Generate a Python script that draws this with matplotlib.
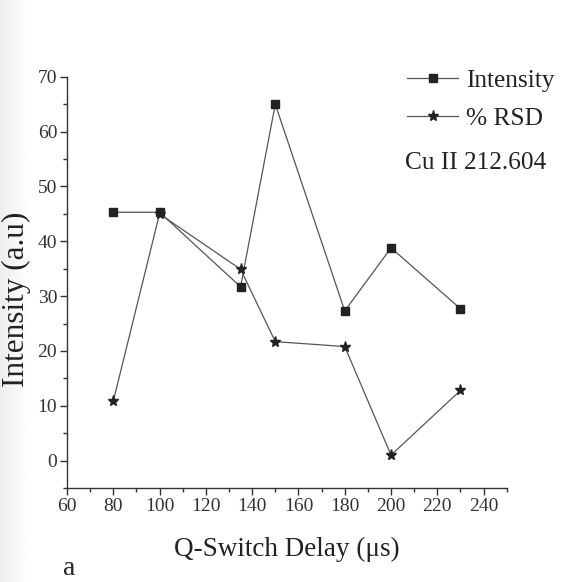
import matplotlib
matplotlib.use("Agg")
import matplotlib.pyplot as plt
import numpy as np
from matplotlib.ticker import MultipleLocator

plt.rcParams['font.family'] = ['Liberation Serif', 'DejaVu Serif']

delay = [80, 100, 135, 150, 180, 200, 230]
intensity = [45.3, 45.3, 31.7, 65.0, 27.3, 38.8, 27.7]
rsd = [10.8, 45.0, 34.9, 21.7, 20.8, 1.0, 12.8]

fig = plt.figure(figsize=(5.72, 5.82), dpi=100)

# faint grey shading along the left edge of the page
shade = fig.add_axes([0, 0, 0.05, 1], zorder=-5)
grad = np.linspace(0.93, 1.0, 50)[None, :]
shade.imshow(grad, cmap='gray', vmin=0, vmax=1, aspect='auto', extent=[0, 1, 0, 1])
shade.axis('off')

ax = fig.add_axes([0.117, 0.1615, 0.769, 0.7065])
ax.patch.set_alpha(0)

ax.plot(delay, intensity, color='#555555', lw=0.9, marker='s', ms=6,
        mfc='#222222', mec='#222222', label='Intensity')
ax.plot(delay, rsd, color='#555555', lw=0.9, marker='*', ms=8,
        mfc='#222222', mec='#222222', label='% RSD')

ax.set_xlim(60, 250)
ax.set_ylim(-5, 70)
ax.xaxis.set_minor_locator(MultipleLocator(10))
ax.yaxis.set_major_locator(MultipleLocator(10))
ax.yaxis.set_minor_locator(MultipleLocator(5))
ax.set_xticks(range(60, 241, 20))

for s in ['top', 'right']:
    ax.spines[s].set_visible(False)
for s in ['left', 'bottom']:
    ax.spines[s].set_linewidth(1.0)
    ax.spines[s].set_color('#333333')

ax.tick_params(which='major', direction='out', length=5, width=1.0,
               colors='#333333', labelsize=14, labelcolor='#333333', pad=2)
ax.tick_params(which='minor', direction='out', length=3, width=1.0,
               colors='#333333')

ax.set_xlabel('Q-Switch Delay (\u03bcs)', fontsize=19.5, color='#222222', labelpad=16)
ax.set_ylabel('Intensity (a.u)', fontsize=22.5, color='#222222')
ax.yaxis.set_label_coords(-0.082, 0.46)

leg = ax.legend(loc='upper right', bbox_to_anchor=(1.16, 1.075), frameon=False,
                fontsize=18.3, handlelength=2.0, handletextpad=0.3,
                labelspacing=0.62, labelcolor='#222222')

fig.text(0.708, 0.709, 'Cu II 212.604', fontsize=18.3, color='#222222')
fig.text(0.11, 0.012, 'a', fontsize=20, color='#222222')

fig.savefig('out.png', dpi=100)
